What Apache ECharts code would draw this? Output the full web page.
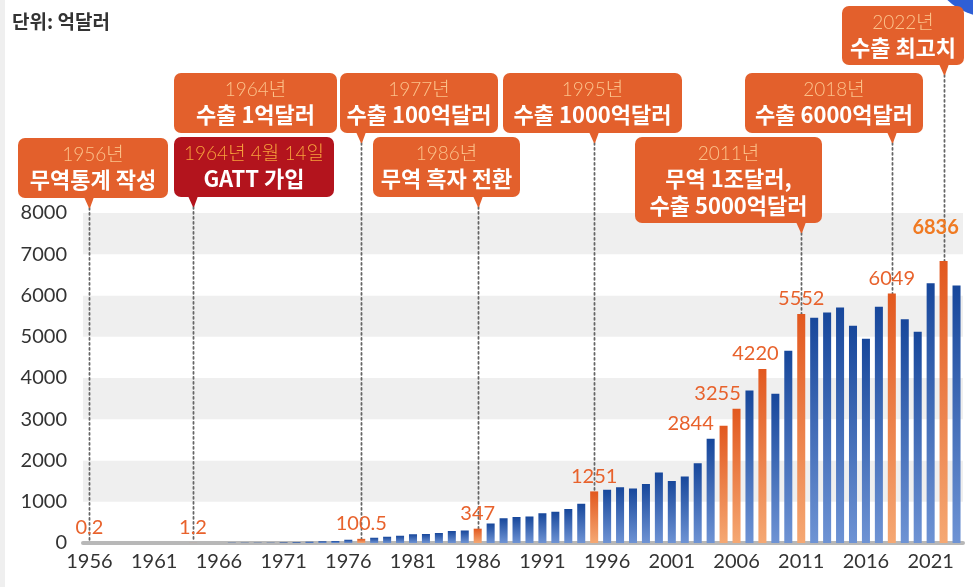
<!DOCTYPE html>
<html>
<head>
<meta charset="utf-8">
<script src="https://cdn.jsdelivr.net/npm/echarts@6/dist/echarts.min.js"></script>
<style>
  html, body { margin: 0; padding: 0; background: #ffffff; }
  #chart { width: 973px; height: 587px; }
</style>
</head>
<body>
<div id="chart"></div>
<script>
// Korea annual exports, unit: 100 million USD
const years = [
  '1956','1957','1958','1959','1960','1961','1962','1963','1964','1965',
  '1966','1967','1968','1969','1970','1971','1972','1973','1974','1975',
  '1976','1977','1978','1979','1980','1981','1982','1983','1984','1985',
  '1986','1987','1988','1989','1990','1991','1992','1993','1994','1995',
  '1996','1997','1998','1999','2000','2001','2002','2003','2004','2005',
  '2006','2007','2008','2009','2010','2011','2012','2013','2014','2015',
  '2016','2017','2018','2019','2020','2021','2022','2023'
];
const exportsValue = [
  0.2, 0.22, 0.17, 0.2, 0.33, 0.41, 0.55, 0.87, 1.2, 1.75,
  2.5, 3.2, 4.55, 6.23, 8.35, 10.7, 16.2, 32.3, 44.6, 50.8,
  77.2, 100.5, 127, 151, 175, 213, 219, 244, 292, 303,
  347, 473, 600, 630, 640, 720, 760, 822, 950, 1251,
  1290, 1350, 1323, 1430, 1710, 1504, 1615, 1935, 2530, 2844,
  3255, 3700, 4220, 3620, 4660, 5552, 5460, 5590, 5710, 5265,
  4954, 5730, 6049, 5422, 5120, 6300, 6836, 6240
];

// Milestone years that are highlighted and labelled with their value
const markedYears = ['1956','1964','1977','1986','1995','2005','2006','2008','2011','2018','2022'];
const markedLabels = ['0.2','1.2','100.5','347','1251','2844','3255','4220','5552','6049','6836'];
const labelShift = [[0,0],[0,0],[0,0],[0,0],[0,0],[-33,13],[-19,0],[-7,0],[0,0],[0,0],[-8,-18]];

// Call-out boxes
const noteYears  = ['1956','1964','1964','1977','1986','1995','2011','2018','2022'];
const noteHeads  = ['1956년','1964년','1964년 4월 14일','1977년','1986년','1995년','2011년','2018년','2022년'];
const noteBodies = [
  ['무역통계 작성'], ['수출 1억달러'], ['GATT 가입'], ['수출 100억달러'], ['무역 흑자 전환'],
  ['수출 1000억달러'], ['무역 1조달러,', '수출 5000억달러'], ['수출 6000억달러'], ['수출 최고치']
];

const yTicks = [0, 1000, 2000, 3000, 4000, 5000, 6000, 7000, 8000];

const FONT = 'Lato, "Noto Sans CJK KR", sans-serif';
const KFONT = '"Noto Sans CJK KR", Lato, sans-serif';

const blueFill = new echarts.graphic.LinearGradient(0, 0, 0, 1, [
  { offset: 0, color: '#17479b' }, { offset: 1, color: '#6e93d4' }
]);
const orangeFill = new echarts.graphic.LinearGradient(0, 0, 0, 1, [
  { offset: 0, color: '#e2581f' }, { offset: 1, color: '#f5a873' }
]);

const barData = exportsValue.map((v, i) => {
  const k = markedYears.indexOf(years[i]);
  if (k < 0) return { value: v, itemStyle: { color: blueFill } };
  const strong = years[i] === '2022';
  return {
    value: v,
    itemStyle: { color: orangeFill },
    label: {
      show: true,
      position: 'top',
      distance: 5,
      formatter: markedLabels[k],
      offset: labelShift[k],
      color: strong ? '#f07a22' : '#e8622c',
      fontSize: strong ? 20 : 20,
      fontWeight: strong ? 'bold' : 'normal',
      fontFamily: FONT
    }
  };
});

const chart = echarts.init(document.getElementById('chart'), null, { renderer: 'canvas' });

chart.setOption({
  animation: false,
  backgroundColor: '#ffffff',
  grid: { left: 83, right: 10, top: 213, bottom: 44, containLabel: false },
  xAxis: {
    type: 'category',
    data: years,
    boundaryGap: true,
    axisLine: { show: true, lineStyle: { color: '#b8b8b8', width: 4 } },
    axisTick: { show: false },
    axisLabel: {
      interval: 4, margin: 9, color: '#333333', fontSize: 20, fontFamily: FONT
    }
  },
  yAxis: {
    type: 'value',
    min: yTicks[0],
    max: yTicks[yTicks.length - 1],
    interval: 1000,
    axisLine: { show: false },
    axisTick: { show: false },
    splitLine: { show: false },
    splitArea: { show: true, areaStyle: { color: ['#ffffff', '#efefef'] } },
    axisLabel: {
      margin: 16, color: '#333333', fontSize: 20, fontFamily: FONT,
      formatter: v => String(v)
    }
  },
  series: [{
    type: 'bar',
    data: barData,
    barWidth: '62%',
    z: 3,
    label: { show: false }
  }]
});

// Call-out layout: box rectangle, fill and where its pointer ends
const boxRects = [
  [18, 138, 150, 60], [174, 73, 163, 60], [174, 137, 160, 60], [340, 73, 158, 60], [373, 137, 147, 60],
  [503, 73, 179, 60], [635, 137, 187, 86], [745, 73, 178, 60], [842, 6, 122, 59]
];
const boxFills = ['#e3602c','#e3602c','#b3141d','#e3602c','#e3602c','#e3602c','#e3602c','#e3602c','#e3602c'];
const headFills = ['#fcc38c','#fcc38c','#f7a23c','#fcc38c','#fcc38c','#fcc38c','#fcc38c','#fcc38c','#fcc38c'];
const hasPointer = [true, false, true, true, true, true, true, true, true];

const extra = [];
noteYears.forEach((yr, i) => {
  const [bx, by, bw, bh] = boxRects[i];
  const idx = years.indexOf(yr);
  const px = Math.round(chart.convertToPixel({ xAxisIndex: 0 }, idx));
  const bottom = by + bh;
  const tip = bottom + 10;
  if (hasPointer[i]) {
    const topPx = chart.convertToPixel({ yAxisIndex: 0 }, exportsValue[idx]);
    extra.push({
      type: 'line', z: 1, silent: true,
      shape: { x1: px + 0.5, y1: tip, x2: px + 0.5, y2: Math.min(topPx, 541) },
      style: { stroke: '#666666', lineWidth: 1.8, lineDash: [1.8, 3.2], lineCap: 'round' }
    });
    extra.push({
      type: 'polygon', z: 50, silent: true,
      shape: { points: [[px - 5, bottom - 1], [px + 5, bottom - 1], [px + 1, tip], [px, tip]] },
      style: { fill: boxFills[i] }
    });
  }
  extra.push({
    type: 'rect', z: 50, silent: true,
    shape: { x: bx, y: by, width: bw, height: bh, r: 7 },
    style: { fill: boxFills[i] }
  });
  const cx = bx + bw / 2;
  extra.push({
    type: 'text', z: 51, silent: true, x: cx, y: by + 17,
    style: { text: noteHeads[i], fill: headFills[i], font: '300 19px ' + FONT, align: 'center', verticalAlign: 'middle' }
  });
  noteBodies[i].forEach((line, j) => {
    extra.push({
      type: 'text', z: 51, silent: true, x: cx, y: by + 42 + j * 27,
      style: { text: line, fill: '#ffffff', font: 'bold 22px ' + KFONT, align: 'center', verticalAlign: 'middle' }
    });
  });
});

chart.setOption({
  graphic: [
    { type: 'rect', shape: { x: 0, y: 0, width: 5, height: 587 }, style: { fill: '#efefef' }, silent: true },
    {
      type: 'text', x: 12, y: 22, silent: true,
      style: { text: '단위: 억달러', fill: '#333333', font: 'bold 19px ' + KFONT, verticalAlign: 'middle' }
    },
    { type: 'circle', shape: { cx: 990, cy: -45, r: 62 }, style: { fill: '#2e5fd6' }, silent: true }
  ].concat(extra)
});
</script>
</body>
</html>
